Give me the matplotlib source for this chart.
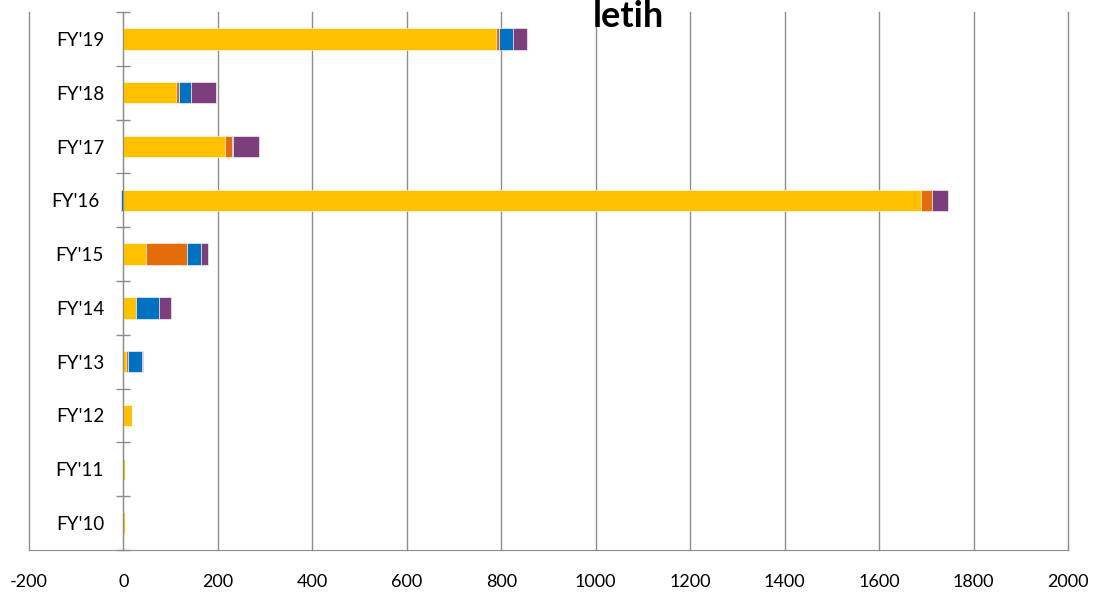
import numpy as np
import matplotlib
matplotlib.use('Agg')
import matplotlib.pyplot as plt
from matplotlib.transforms import ScaledTranslation

plt.rcParams['font.family'] = ['Lato', 'DejaVu Sans']
plt.rcParams['axes.unicode_minus'] = False

# data
years = ["FY'10", "FY'11", "FY'12", "FY'13", "FY'14", "FY'15", "FY'16", "FY'17", "FY'18", "FY'19"]
yellow = [3, 4, 19, 6, 26, 48, 1688, 214, 112, 788]
orange = [0, 0, 0, 4, 1, 87, 25, 15, 6, 8]
blue = [0, 0, 0, 29, 49, 30, -5, 3, 25, 28]
purple = [0, 0, 0, 1.5, 25, 15, 33, 55, 53, 30]
series = [yellow, orange, blue, purple]
colors = ['#FFC000', '#E46C0A', '#0070C0', '#7D3F7B']

fig = plt.figure(figsize=(10.94, 5.94), dpi=100)
ax = fig.add_axes([29/1094, 1-550/594, (1068-29)/1094, (550-12)/594])

y = np.arange(len(years))
pos_left = np.zeros(len(years))
neg_left = np.zeros(len(years))
for vals, c in zip(series, colors):
    vals = np.array(vals, dtype=float)
    left = np.where(vals >= 0, pos_left, neg_left)
    ax.barh(y, vals, left=left, height=0.4, color=c, edgecolor='white', linewidth=0.4, zorder=3)
    pos_left += np.where(vals >= 0, vals, 0)
    neg_left += np.where(vals < 0, vals, 0)

ax.set_xlim(-200, 2000)
ax.set_ylim(-0.5, len(years) - 0.5)
ax.set_xticks(np.arange(-200, 2001, 200))
ax.grid(axis='x', color='#8c8c8c', linewidth=1, zorder=0)
for gl in ax.get_xgridlines():
    gl.set_clip_on(False)
ax.tick_params(axis='x', length=0, pad=17, labelsize=13)

for s in ['top', 'right']:
    ax.spines[s].set_visible(False)
ax.spines['bottom'].set_color('#8c8c8c')
ax.spines['left'].set_position(('data', 0))
ax.spines['left'].set_color('#8c8c8c')
ax.spines['left'].set_zorder(4)

ax.set_yticks(y)
ax.set_yticklabels(years)
ax.set_yticks(np.arange(-0.5, len(years), 1), minor=True)
ax.tick_params(axis='y', which='major', length=0, pad=14, labelsize=13.5)
ax.tick_params(axis='y', which='minor', length=10, direction='inout', color='#8c8c8c', width=1)

# FY'16 label sits a bit further left in the original
lbl = ax.get_yticklabels()[6]
lbl.set_transform(lbl.get_transform() + ScaledTranslation(-5/100, 0, fig.dpi_scale_trans))

fig.text(628/1094, 1-27/594, 'letih', ha='center', va='baseline', fontsize=26, fontweight='bold')

fig.savefig('out.png', dpi=100)
